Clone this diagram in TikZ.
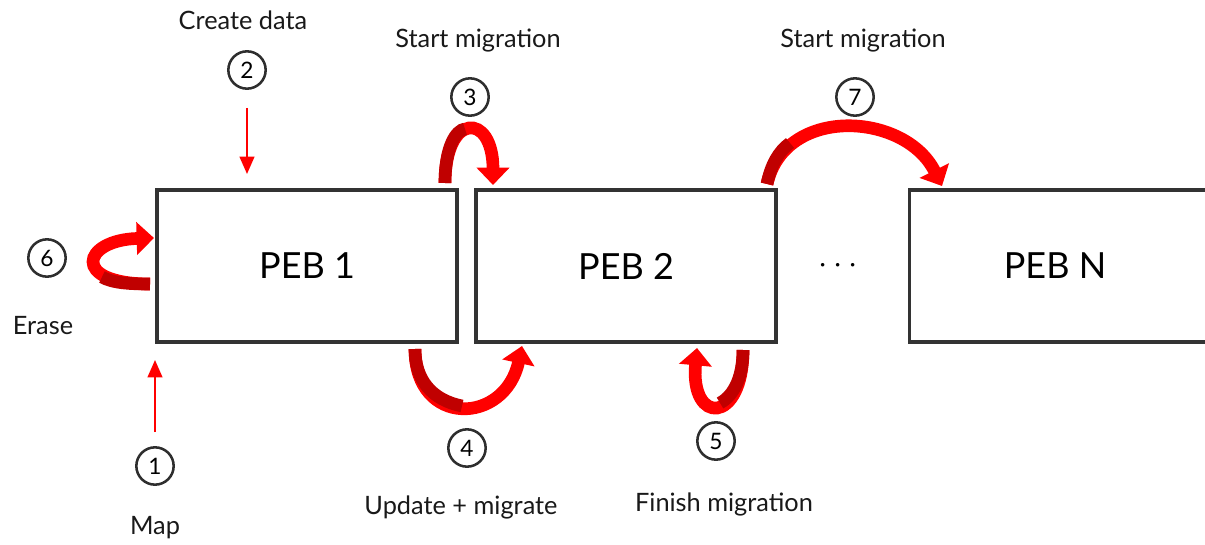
\documentclass[tikz,border=0pt]{standalone}
\usepackage{fontspec}
\setmainfont{Lato}
\usetikzlibrary{arrows.meta}
\definecolor{edge}{HTML}{333333}
\definecolor{flow}{HTML}{FF0000}
\definecolor{flowdark}{HTML}{C00000}
\begin{document}
\begin{tikzpicture}[x=0.75pt,y=-0.75pt,
  peb/.style={draw=edge,line width=2.3pt,minimum width=225pt,minimum height=114pt,inner sep=0pt,font=\fontsize{27}{31}\selectfont},
  stepnum/.style={circle,draw=edge!90!black,line width=1.9pt,minimum size=28pt,inner sep=0pt,font=\fontsize{17}{19}\selectfont},
  caption/.style={font=\fontsize{19}{22}\selectfont,text=black!90},
  thinarrow/.style={draw=flow,line width=1.6pt,-{Triangle[width=11pt,length=13pt]}},
  ribbonhead/.style={draw=flow,line width=9.5pt,-{Triangle[width=24pt,length=13pt]}},
  ribbondark/.style={draw=flowdark,line width=9.5pt}]
\useasboundingbox (0,0) rectangle (1205,545);
\clip (0,0) rectangle (1205,545);

% blocks
\node[peb] (p1) at (307,266) {PEB 1};
\node[peb] (p2) at (626,266) {PEB 2};
\node[peb,minimum width=232pt,anchor=west] (pn) at (908,266) {};
\node[font=\fontsize{27}{31}\selectfont] (pnlabel) at (1055,266) {PEB N};
\node[font=\fontsize{26}{30}\selectfont] (dots) at (838,266) {$\cdots$};

% numbered steps and their captions
\node[stepnum] (s1) at (155,466) {1};
\node[stepnum] (s2) at (247,70) {2};
\node[stepnum] (s3) at (470,97) {3};
\node[stepnum] (s4) at (467,448) {4};
\node[stepnum] (s5) at (716,441) {5};
\node[stepnum] (s6) at (47,258) {6};
\node[stepnum] (s7) at (855,97) {7};

\node[caption] (c1) at (155,528) {Map};
\node[caption] (c2) at (243,20) {Create data};
\node[caption] (c3) at (478,41) {Start migration};
\node[caption] (c4) at (461,507) {Update + migrate};
\node[caption] (c5) at (724,504) {Finish migration};
\node[caption] (c6) at (43,326) {Erase};
\node[caption] (c7) at (863,41) {Start migration};

% straight arrows
\coordinate (a2s) at (247,108);
\coordinate (a2e) at (247,174);
\coordinate (a1s) at (155,432);
\coordinate (a1e) at (155,360);
\draw[thinarrow] (a2s) -- (a2e);
\draw[thinarrow] (a1s) -- (a1e);

% curved ribbons: step 3
\coordinate (r3s) at (445,183);
\coordinate (r3e) at (493,185);
\draw[ribbonhead] (r3s) .. controls (445,112) and (493,112) .. (r3e);
\draw[ribbondark] (r3s) .. controls (445,147) and (456,130) .. (465,129);

% step 7
\coordinate (r7s) at (767,184);
\coordinate (r7e) at (942,186);
\draw[ribbonhead] (r7s) .. controls (785,105) and (905,112) .. (r7e);
\draw[ribbondark] (r7s) .. controls (771,165) and (778,152) .. (790,143);

% step 6
\coordinate (r6s) at (150,284);
\coordinate (r6e) at (154,238);
\draw[ribbonhead] (r6s) .. controls (70,284) and (82,240) .. (r6e);
\draw[ribbondark] (r6s) .. controls (130,284) and (112,283) .. (102,277);

% step 4
\coordinate (r4s) at (415,349);
\coordinate (r4e) at (522,346);
\draw[ribbonhead] (r4s) .. controls (415,428) and (505,425) .. (r4e);
\draw[ribbondark] (r4s) .. controls (415,380) and (432,400) .. (462,406);

% step 5
\coordinate (r5s) at (743,350);
\coordinate (r5e) at (697,348);
\draw[ribbonhead] (r5s) .. controls (743,425) and (690,425) .. (r5e);
\draw[ribbondark] (r5s) .. controls (743,375) and (735,395) .. (720,403);
\end{tikzpicture}
\end{document}
